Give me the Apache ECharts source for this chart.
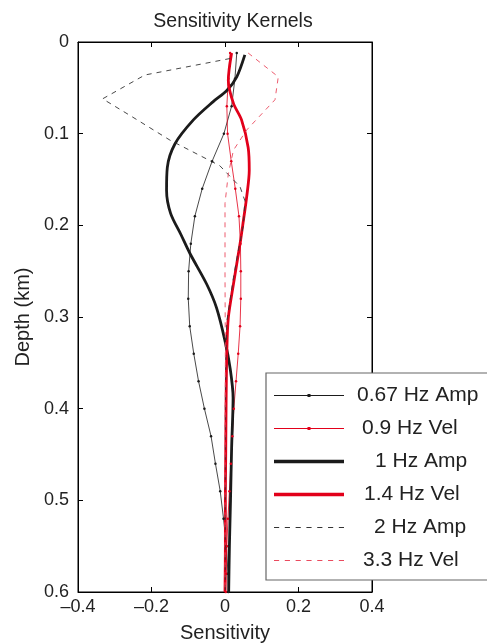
<!DOCTYPE html>
<html>
<head>
  <meta charset="utf-8" />
  <title>Sensitivity Kernels</title>
  <script src="https://cdn.jsdelivr.net/npm/echarts@6/dist/echarts.min.js"></script>
</head>
<body style="margin:0;background:#fff;">
  <div id="kernels" style="width:487px;height:643px;"></div>
  <script type="text/javascript">

    // Depths (km) and sensitivity values
    let depthThin = [0.012, 0.04, 0.07, 0.1, 0.13, 0.16, 0.19, 0.22, 0.25, 0.28, 0.31,
      0.34, 0.37, 0.40, 0.43, 0.46, 0.49, 0.52, 0.55, 0.58, 0.6];
    let amp067 = [0.032, 0.027, 0.018, -0.003, -0.035, -0.062, -0.082, -0.093, -0.099, -0.1, -0.096,
      -0.085, -0.072, -0.056, -0.038, -0.026, -0.013, -0.004, 0.004, 0.008, 0.009];
    let vel09 = [0.014, 0.009, 0.005, 0.007, 0.017, 0.028, 0.038, 0.042, 0.043, 0.043, 0.041,
      0.036, 0.030, 0.024, 0.020, 0.016, 0.012, 0.008, 0.005, 0.003, 0.002];

    let depthAmp1 = [0.014, 0.038, 0.053, 0.065, 0.085, 0.111, 0.137, 0.162, 0.187, 0.21,
      0.231, 0.264, 0.29, 0.326, 0.356, 0.388, 0.443, 0.5, 0.55, 0.6];
    let amp1 = [0.054, 0.032, 0.005, -0.032, -0.086, -0.136, -0.157, -0.159, -0.148, -0.12,
      -0.095, -0.05, -0.023, 0, 0.014, 0.022, 0.018, 0.015, 0.012, 0.01];

    let depthVel14 = [0.012, 0.042, 0.067, 0.085, 0.115, 0.14, 0.169, 0.195, 0.22, 0.264,
      0.301, 0.337, 0.392, 0.45, 0.5, 0.55, 0.6];
    let vel14 = [0.018, 0.009, 0.023, 0.045, 0.063, 0.066, 0.059, 0.05, 0.041, 0.023,
      0.009, 0.005, 0.003, 0.002, 0.001, 0.001, 0.0];

    let depthAmp2 = [0.018, 0.036, 0.062, 0.08, 0.107, 0.135, 0.158, 0.173, 0.2, 0.23,
      0.257, 0.305, 0.35, 0.4, 0.5, 0.6];
    let amp2 = [0.014, -0.218, -0.333, -0.259, -0.15, -0.014, 0.041, 0.054, 0.05, 0.035,
      0.023, 0.005, 0.002, 0.001, 0.001, 0.001];

    let depthVel33 = [0.012, 0.038, 0.063, 0.096, 0.118, 0.144, 0.176, 0.25, 0.35, 0.45, 0.6];
    let vel33 = [0.063, 0.145, 0.136, 0.059, 0.023, 0.009, 0, 0, 0.001, 0, 0];

    let seriesNames = ['0.67 Hz Amp', '0.9 Hz Vel', '1 Hz Amp', '1.4 Hz Vel', '2 Hz Amp', '3.3 Hz Vel'];

    function pairs(xs, ys) {
      return xs.map(function (x, i) { return [x, ys[i]]; });
    }

    // legend sample shapes (drawn as paths so widths / dashes match the figure)
    function dashPath() {
      var p = 'path://';
      for (var x = 0; x < 70; x += 10.5) {
        p += 'M' + x + ',0L' + (x + 5) + ',0L' + (x + 5) + ',1.1L' + x + ',1.1Z';
      }
      return p;
    }
    var iconThinDot = 'path://M0,1.6L70,1.6L70,2.4L0,2.4Z M33.5,0.5L36.5,0.5L36.5,3.5L33.5,3.5Z';
    var iconThick = 'path://M0,0L70,0L70,3.6L0,3.6Z';
    var iconDash = dashPath();
    var legendIcons = [iconThinDot, iconThinDot, iconThick, iconThick, iconDash, iconDash];
    var legendShift = [8, 13, 26, 15, 25, 14];

    var chart = echarts.init(document.getElementById('kernels'));
    var font = 'Liberation Sans, Arial, Helvetica, sans-serif';
    var black = '#1b1b1b';
    var red = '#e2001a';

    var rich = {};
    seriesNames.forEach(function (n, i) {
      rich['r' + i] = { fontSize: 21, lineHeight: 22, fontFamily: font, color: '#222', padding: [0, 0, 0, legendShift[i]] };
    });

    var option = {
      animation: false,
      textStyle: { fontFamily: font },
      title: {
        text: 'Sensitivity Kernels',
        left: 228,
        textAlign: 'center',
        top: 7,
        textStyle: { fontSize: 19.5, fontWeight: 'normal', color: '#222', fontFamily: font }
      },
      grid: {
        left: 78, right: 115, top: 42, bottom: 51,
        outerBoundsMode: 'none',
        containLabel: false,
        show: true, borderColor: '#000', borderWidth: 1, backgroundColor: 'transparent'
      },
      legend: {
        orient: 'vertical',
        left: 266,
        top: 373,
        width: 221,
        padding: [12, 30, 9, 8],
        itemWidth: 70,
        itemHeight: 14,
        itemGap: 12,
        backgroundColor: '#fff',
        borderColor: '#666',
        borderWidth: 1.2,
        borderRadius: 0,
        data: seriesNames.map(function (n, i) { return { name: n, icon: legendIcons[i] }; }),
        formatter: function (name) { return '{r' + seriesNames.indexOf(name) + '|' + name + '}'; },
        textStyle: { color: '#222', fontSize: 21, fontFamily: font, rich: rich }
      },
      xAxis: [
        {
          type: 'value', min: -0.4, max: 0.4, interval: 0.2,
          name: 'Sensitivity', nameLocation: 'middle', nameGap: 31,
          nameTextStyle: { fontSize: 20, color: '#222' },
          axisLine: { onZero: false, lineStyle: { color: '#000' } },
          axisTick: { inside: true, length: 5, lineStyle: { color: '#000' } },
          axisLabel: {
            fontSize: 18, color: '#222', margin: 6,
            formatter: function (v) { return String(Math.round(v * 10) / 10).replace('-', '\u2013'); }
          },
          splitLine: { show: false }
        },
        {
          type: 'value', min: -0.4, max: 0.4, interval: 0.2, position: 'top',
          axisLine: { onZero: false, lineStyle: { color: '#000' } },
          axisTick: { inside: true, length: 5, lineStyle: { color: '#000' } },
          axisLabel: { show: false },
          splitLine: { show: false }
        }
      ],
      yAxis: [
        {
          type: 'value', min: 0, max: 0.6, interval: 0.1, inverse: true,
          name: 'Depth (km)', nameLocation: 'middle', nameGap: 45,
          nameTextStyle: { fontSize: 20, color: '#222' },
          axisLine: { onZero: false, lineStyle: { color: '#000' } },
          axisTick: { inside: true, length: 5, lineStyle: { color: '#000' } },
          axisLabel: {
            fontSize: 18, color: '#222', margin: 9,
            formatter: function (v) { return String(Math.round(v * 10) / 10); }
          },
          splitLine: { show: false }
        },
        {
          type: 'value', min: 0, max: 0.6, interval: 0.1, inverse: true, position: 'right',
          axisLine: { onZero: false, lineStyle: { color: '#000' } },
          axisTick: { inside: true, length: 5, lineStyle: { color: '#000' } },
          axisLabel: { show: false },
          splitLine: { show: false }
        }
      ],
      series: [
        {
          name: seriesNames[0], type: 'line', data: pairs(amp067, depthThin),
          symbol: 'circle', symbolSize: 2.5, showSymbol: true,
          itemStyle: { color: black },
          lineStyle: { color: black, width: 0.8 }
        },
        {
          name: seriesNames[1], type: 'line', data: pairs(vel09, depthThin),
          symbol: 'circle', symbolSize: 2.5, showSymbol: true,
          itemStyle: { color: red },
          lineStyle: { color: red, width: 0.8 }
        },
        {
          name: seriesNames[2], type: 'line', data: pairs(amp1, depthAmp1),
          symbol: 'none', smooth: 0.3,
          itemStyle: { color: black },
          lineStyle: { color: black, width: 2.8 }
        },
        {
          name: seriesNames[3], type: 'line', data: pairs(vel14, depthVel14),
          symbol: 'none', smooth: 0.3,
          itemStyle: { color: red },
          lineStyle: { color: red, width: 2.8 }
        },
        {
          name: seriesNames[4], type: 'line', data: pairs(amp2, depthAmp2),
          symbol: 'none',
          itemStyle: { color: '#333' },
          lineStyle: { color: '#333', width: 0.9, type: [5, 5] }
        },
        {
          name: seriesNames[5], type: 'line', data: pairs(vel33, depthVel33),
          symbol: 'none',
          itemStyle: { color: '#ea4a5e' },
          lineStyle: { color: '#ea4a5e', width: 0.9, type: [5, 5] }
        }
      ]
    };

    chart.setOption(option);
  </script>
</body>
</html>
